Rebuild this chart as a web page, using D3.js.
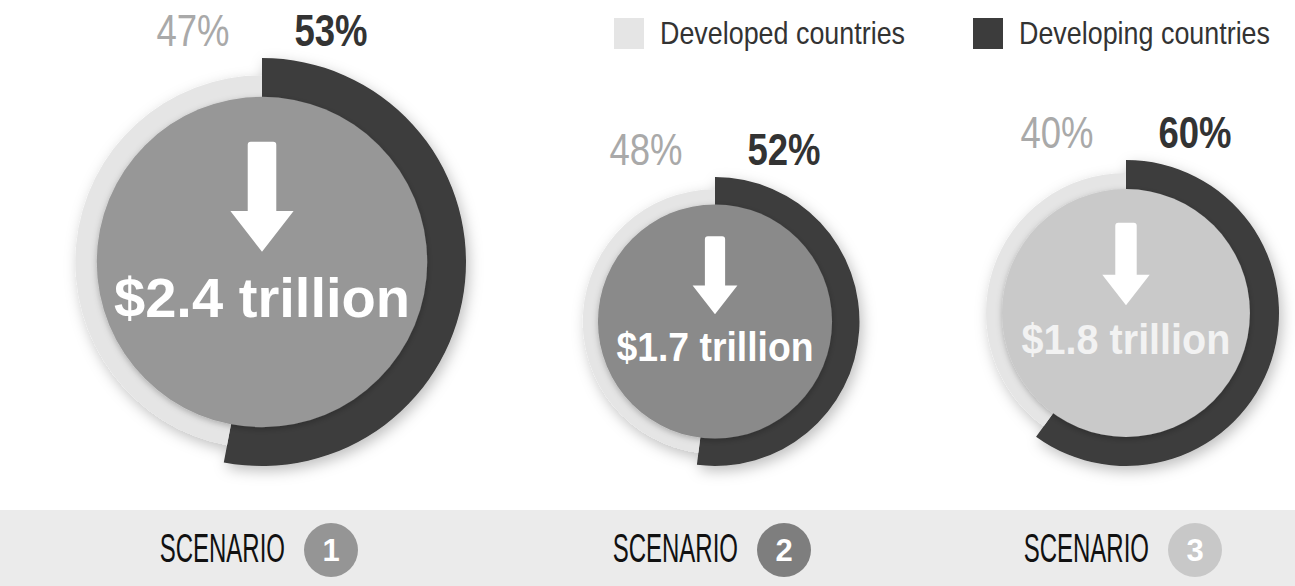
<!DOCTYPE html>
<html>
<head>
<meta charset="utf-8">
<script src="https://cdn.jsdelivr.net/npm/d3@7"></script>
<style>
  body { margin: 0; background: #fff; }
  svg { display: block; }
</style>
</head>
<body>
<div id="chart"></div>
<script>
// data
var scenarios = ["1", "2", "3"];
var totals = [2.4, 1.7, 1.8];            // $ trillion
var developed = [47, 48, 40];            // %
var developing = [53, 52, 60];           // %
var totalLabels = ["$2.4 trillion", "$1.7 trillion", "$1.8 trillion"];
var groups = ["Developed countries", "Developing countries"];

var W = 1295, H = 586;
var colDeveloped = "#e5e5e5", colDeveloping = "#3c3c3c";
var innerCols = ["#979797", "#8a8a8a", "#c9c9c9"];
var badgeCols = ["#959595", "#7e7e7e", "#c8c8c8"];
var textCols = ["#ffffff", "#ffffff", "#f2f2f2"];
var sans = "'Liberation Sans', Arial, sans-serif";

var svg = d3.select("#chart").append("svg").attr("width", W).attr("height", H);

var defs = svg.append("defs");
defs.append("filter").attr("id", "ringShadow").attr("x", "-20%").attr("y", "-20%").attr("width", "140%").attr("height", "140%")
  .append("feDropShadow").attr("dx", 3).attr("dy", 5).attr("stdDeviation", 7).attr("flood-color", "#000").attr("flood-opacity", 0.25);
defs.append("filter").attr("id", "innerShadow").attr("x", "-20%").attr("y", "-20%").attr("width", "140%").attr("height", "140%")
  .append("feDropShadow").attr("dx", 0).attr("dy", 2).attr("stdDeviation", 3).attr("flood-color", "#000").attr("flood-opacity", 0.25);

// condensed text: Liberation Sans squeezed horizontally
function condText(parent, x, y, sx, anchor) {
  return parent.append("g").attr("transform", "translate(" + x + "," + y + ") scale(" + sx + ",1)")
    .append("text").attr("text-anchor", anchor).style("font-family", sans);
}

// radius is proportional to the total
var rScale = d3.scaleLinear().domain([0, d3.max(totals)]).range([0, 204]);
var xPos = d3.scaleOrdinal().domain(scenarios).range([262, 715, 1126]);
var baseY = 466;   // bottoms of the rings line up

var pie = d3.pie().sort(null).value(function (d) { return d.v; });

// bottom band
svg.append("rect").attr("x", 0).attr("y", 510).attr("width", W).attr("height", H - 510).attr("fill", "#ebebeb");

scenarios.forEach(function (s, i) {
  var r = rScale(totals[i]);
  var cx = xPos(s), cy = baseY - r;
  var g = svg.append("g").attr("transform", "translate(" + cx + "," + cy + ")");

  var slices = pie([{ k: "dev", v: developing[i] }, { k: "ed", v: developed[i] }]);
  var ring = g.append("g").attr("filter", "url(#ringShadow)");
  ring.selectAll("path").data(slices).join("path")
    .attr("d", function (d) {
      var outer = d.data.k === "dev" ? r : r * 0.915;
      return d3.arc().innerRadius(r * 0.7).outerRadius(outer)(d);
    })
    .attr("fill", function (d) { return d.data.k === "dev" ? colDeveloping : colDeveloped; });

  g.append("circle").attr("r", r * 0.81).attr("fill", innerCols[i]).attr("filter", "url(#innerShadow)");

  // arrow
  var sw = r * 0.07, hw = r * 0.155, top = -r * 0.59, hs = -r * 0.25, tip = -r * 0.05;
  var p = d3.path();
  p.moveTo(-sw, top + 3);
  p.quadraticCurveTo(-sw, top, -sw + 3, top);
  p.lineTo(sw - 3, top);
  p.quadraticCurveTo(sw, top, sw, top + 3);
  p.lineTo(sw, hs);
  p.lineTo(hw, hs);
  p.lineTo(0, tip);
  p.lineTo(-hw, hs);
  p.lineTo(-sw, hs);
  p.closePath();
  g.append("path").attr("d", p.toString()).attr("fill", "#fff");

  condText(g, 0, r * 0.27, i === 0 ? 1 : 0.94, "middle")
    .style("font-weight", "bold")
    .style("font-size", (r * 0.275) + "px").style("fill", textCols[i])
    .text(totalLabels[i]);

  // percentage labels
  condText(g, -69, -r - 12, 0.83, "middle")
    .style("font-size", "44px").style("fill", "#a9a9a9")
    .text(developed[i] + "%");
  condText(g, 69, -r - 12, 0.83, "middle")
    .style("font-weight", "bold").style("font-size", "44px").style("fill", "#333")
    .text(developing[i] + "%");

  // scenario label
  var sg = svg.append("g").attr("transform", "translate(" + cx + ",0)");
  condText(sg, 23, 562, 0.6, "end")
    .style("font-size", "40px").style("fill", "#111")
    .text("SCENARIO");
  sg.append("circle").attr("cx", 69).attr("cy", 550).attr("r", 27).attr("fill", badgeCols[i]);
  sg.append("text").attr("x", 69).attr("y", 561).attr("text-anchor", "middle")
    .style("font-family", sans).style("font-weight", "bold").style("font-size", "31px").style("fill", "#fff")
    .text(s);
});

// legend
var legX = d3.scaleOrdinal().domain(groups).range([614, 973]);
var leg = svg.selectAll(".leg").data(groups).join("g").attr("class", "leg")
  .attr("transform", function (d) { return "translate(" + legX(d) + ",18)"; });
leg.append("rect").attr("width", 30).attr("height", 31)
  .attr("fill", function (d, i) { return i === 0 ? colDeveloped : colDeveloping; });
leg.each(function () {
  condText(d3.select(this), 46, 26, 0.84, "start")
    .style("font-size", "32px").style("fill", "#333")
    .text(function (d) { return d; });
});
</script>
</body>
</html>
